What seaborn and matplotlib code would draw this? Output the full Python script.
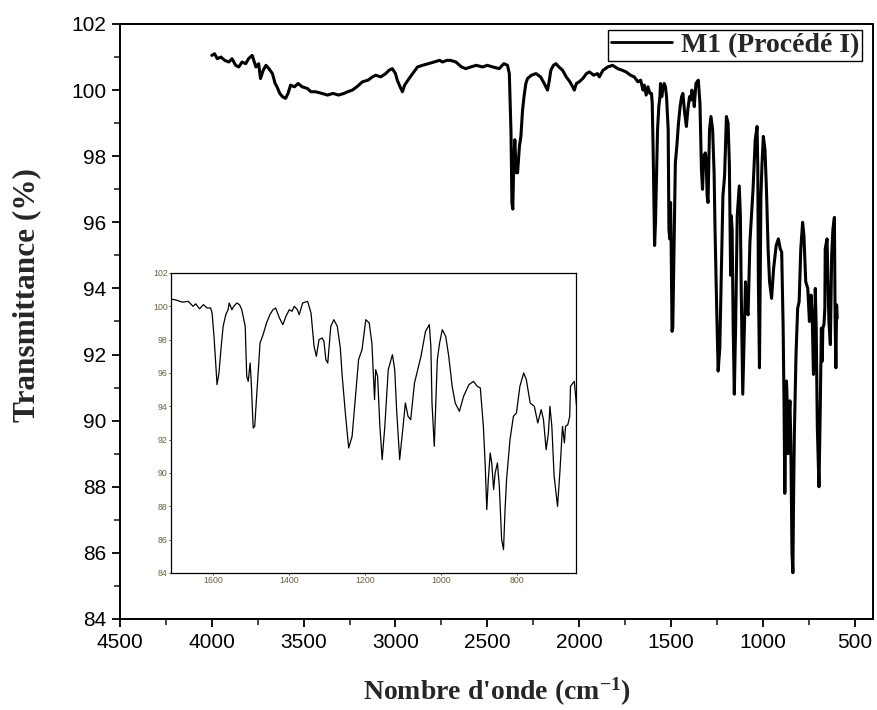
import numpy as np
import pandas as pd
import matplotlib
matplotlib.use("Agg")
import matplotlib.pyplot as plt
import seaborn as sns
from matplotlib.ticker import MultipleLocator

# ---------------- data ----------------
wavenumber = [
    4000, 3985, 3970, 3950, 3930, 3907, 3890, 3870, 3853, 3835, 3815, 3800, 3780, 3760,
    3745, 3735, 3720, 3705, 3689, 3670, 3655, 3645, 3630, 3615, 3598, 3585, 3571, 3550,
    3530, 3508, 3480, 3460, 3435, 3400, 3370, 3340, 3310, 3280, 3260, 3235, 3210, 3180,
    3150, 3125, 3107, 3080, 3053, 3035, 3017, 3000, 2990, 2975, 2962, 2950, 2926, 2900,
    2880, 2853, 2820, 2790, 2760, 2744, 2720, 2700, 2671, 2640, 2617, 2590, 2560, 2526,
    2500, 2470, 2435, 2410, 2390, 2380, 2375, 2371, 2366, 2361, 2356, 2350, 2343, 2335,
    2325, 2317, 2308, 2299, 2290, 2281, 2260, 2235, 2210, 2190, 2172, 2162, 2154, 2140,
    2126, 2110, 2090, 2070, 2050, 2035, 2026, 2015, 2000, 1980, 1960, 1944, 1920, 1900,
    1890, 1870, 1844, 1818, 1790, 1765, 1744, 1720, 1700,
    1693, 1680, 1665, 1652, 1645, 1635, 1625, 1615, 1606, 1602, 1597, 1593, 1589, 1584,
    1578, 1573, 1566, 1560, 1557, 1550, 1545, 1537, 1530, 1524, 1515, 1511, 1507, 1502,
    1499, 1494, 1490, 1485, 1476, 1468, 1459, 1450, 1442, 1435, 1425, 1416, 1408, 1399,
    1392, 1386, 1378, 1373, 1364, 1351, 1342, 1334, 1328, 1321, 1313, 1308, 1303, 1298,
    1290, 1282, 1273, 1265, 1260, 1251, 1243, 1234, 1226, 1217, 1208, 1198, 1189, 1182,
    1175, 1172, 1167, 1161, 1155, 1148, 1139, 1128, 1122, 1117, 1109, 1100, 1094, 1087,
    1080, 1070, 1053, 1041, 1031, 1027, 1024, 1018, 1010, 1004, 997, 988, 980, 971,
    963, 952, 941, 927, 915, 905, 897, 889, 884, 880, 876, 871, 867, 862,
    858, 852, 847, 841, 836, 832, 828, 819, 810, 802, 793, 783, 776, 766,
    755, 746, 737, 731, 724, 718, 714, 709, 703, 694, 688, 681, 676, 673,
    667, 662, 660, 650, 640, 632, 625, 618, 610, 606, 602, 598, 595,
]
transmittance = [
    101.05, 101.1, 100.95, 101.0, 100.9, 100.85, 100.95, 100.75, 100.7, 100.85, 100.8, 100.95, 101.05, 100.7,
    100.8, 100.35, 100.6, 100.75, 100.65, 100.5, 100.2, 100.1, 99.9, 99.8, 99.75, 99.9, 100.15, 100.1,
    100.2, 100.1, 100.05, 99.95, 99.95, 99.9, 99.85, 99.9, 99.85, 99.9, 99.95, 100.0, 100.1, 100.25,
    100.3, 100.4, 100.45, 100.4, 100.5, 100.6, 100.65, 100.5, 100.3, 100.1, 99.95, 100.15, 100.35, 100.55,
    100.7, 100.75, 100.8, 100.85, 100.9, 100.85, 100.9, 100.9, 100.85, 100.7, 100.65, 100.7, 100.75, 100.7,
    100.75, 100.7, 100.65, 100.8, 100.75, 100.5, 99.5, 98.75, 96.6, 96.4, 97.8, 98.5, 97.5, 97.5,
    98.3, 98.6, 99.4, 99.85, 100.2, 100.35, 100.45, 100.5, 100.4, 100.2, 100.0, 100.3, 100.6, 100.75,
    100.8, 100.7, 100.6, 100.4, 100.25, 100.1, 100.0, 100.2, 100.25, 100.35, 100.5, 100.55, 100.45, 100.5,
    100.4, 100.6, 100.7, 100.75, 100.65, 100.6, 100.55, 100.45, 100.4,
    100.35, 100.25, 100.3, 100.0, 100.15, 99.85, 100.1, 99.9, 99.9, 99.6, 98.2, 96.8, 95.3, 96.0,
    97.6, 98.8, 99.5, 99.8, 100.2, 99.8, 100.0, 100.2, 100.1, 99.8, 98.8, 95.8, 95.5, 96.6,
    95.4, 92.7, 92.8, 94.6, 97.8, 98.3, 99.0, 99.5, 99.8, 99.9, 99.3, 98.9, 99.4, 99.8,
    99.7, 100.0, 99.8, 99.5, 100.2, 100.3, 99.6, 97.6, 97.0, 98.0, 98.1, 97.9, 96.8, 96.6,
    98.8, 99.2, 98.8, 97.5, 95.8, 93.4, 91.5, 92.2, 94.4, 96.8, 97.4, 99.2, 99.0, 97.8,
    94.4, 96.2, 95.8, 92.8, 90.8, 92.8, 96.2, 97.1, 96.2, 93.8, 90.8, 92.8, 94.2, 93.4,
    93.2, 95.4, 97.0, 98.5, 98.9, 97.6, 94.2, 91.6, 96.8, 97.8, 98.6, 98.2, 97.0, 95.2,
    94.2, 93.7, 94.6, 95.3, 95.5, 95.2, 95.1, 92.8, 90.4, 87.8, 89.6, 91.2, 90.6, 89.0,
    90.0, 90.6, 89.2, 86.0, 85.4, 87.8, 89.6, 92.0, 93.4, 93.6, 95.2, 96.0, 95.6, 94.2,
    94.0, 93.0, 93.8, 93.2, 91.4, 92.4, 94.0, 92.8, 89.8, 88.0, 90.0, 92.8, 91.8, 92.8,
    92.9, 93.4, 95.2, 95.5, 93.0, 92.3, 95.0, 95.8, 96.15, 93.0, 91.6, 93.5, 93.1,
]
series_label = "M1 (Procédé I)"
x_ticks = [4500, 4000, 3500, 3000, 2500, 2000, 1500, 1000, 500]
y_ticks = [84, 86, 88, 90, 92, 94, 96, 98, 100, 102]
inset_x_ticks = [1600, 1400, 1200, 1000, 800]

df = pd.DataFrame({"wn": wavenumber, "T": transmittance})

# ---------------- style ----------------
sns.set_theme(style="ticks")
plt.rcParams["font.family"] = ["Liberation Sans", "DejaVu Sans"]
plt.rcParams["mathtext.default"] = "regular"

fig = plt.figure(figsize=(8.77, 7.10), dpi=100)
ax = fig.add_axes([0.1368, 0.1282, 0.8586, 0.838])

sns.lineplot(data=df, x="wn", y="T", ax=ax, color="black", linewidth=2.2,
             sort=False, estimator=None, label=series_label)

ax.set_xlim(4500, 400)
ax.set_ylim(84, 102)
ax.set_xticks(x_ticks)
ax.set_yticks(y_ticks)
ax.xaxis.set_minor_locator(MultipleLocator(250))
ax.yaxis.set_minor_locator(MultipleLocator(1))
ax.tick_params(axis="both", which="major", direction="out", length=6, width=1.3,
               labelsize=15, colors="black", pad=4)
ax.tick_params(axis="both", which="minor", direction="out", length=4, width=1.2)
for s in ax.spines.values():
    s.set_color("black")
    s.set_linewidth(1.4)

serif = ["Liberation Serif", "DejaVu Serif"]
ax.set_xlabel("Nombre d'onde (cm$^{-1}$)",
              fontdict=dict(family=serif, weight="bold", size=20), labelpad=17)
ax.set_ylabel("Transmittance (%)",
              fontdict=dict(family=serif, weight="bold", size=22.5))
ax.yaxis.set_label_coords(-0.104, 0.545)

leg = ax.legend(loc="upper right", bbox_to_anchor=(0.985, 0.99), borderaxespad=0,
                frameon=True, fancybox=False, edgecolor="black", framealpha=1,
                handlelength=2.2, handletextpad=0.3, borderpad=0.1,
                prop=dict(family=serif, weight="bold", size=20))
leg.get_frame().set_linewidth(1.0)
for line in leg.get_lines():
    line.set_linewidth(2.0)

# ---------------- inset ----------------
axin = fig.add_axes([0.195, 0.193, 0.462, 0.4225])
sns.lineplot(data=df, x="wn", y="T", ax=axin, color="black", linewidth=0.9,
             sort=False, estimator=None, legend=False)
axin.set_xlim(1710, 645)
axin.set_ylim(84, 102)
axin.set_xticks(inset_x_ticks)
axin.set_yticks(y_ticks)
axin.tick_params(axis="both", which="major", direction="out", length=1.5, width=0.6,
                 labelsize=6.3, labelcolor="#6e5e3a", pad=1)
axin.set_xlabel("")
axin.set_ylabel("")
for s in axin.spines.values():
    s.set_color("black")
    s.set_linewidth(0.9)

fig.savefig("out.png", dpi=100)
